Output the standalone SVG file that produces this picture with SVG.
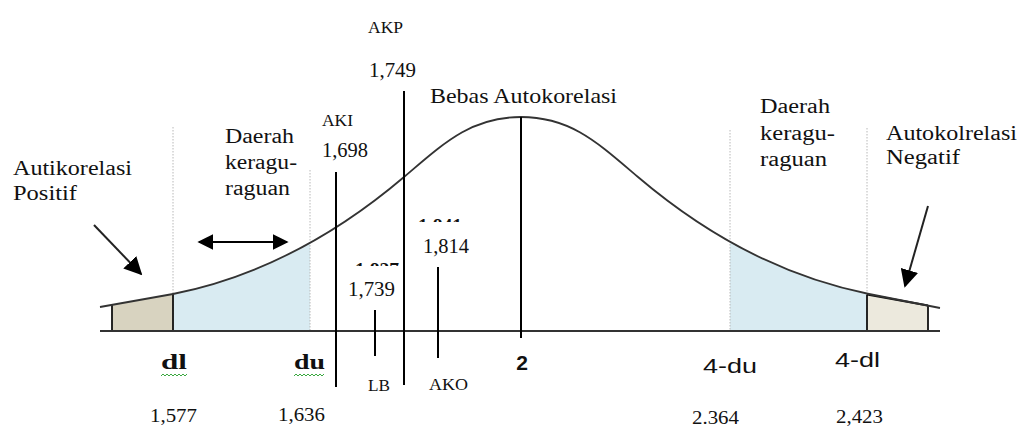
<svg xmlns="http://www.w3.org/2000/svg" width="1022" height="426" viewBox="0 0 1022 426">
<style>
.t{font-family:"Liberation Serif","Times New Roman",serif;fill:#111;}
.s{font-family:"Liberation Sans",Arial,sans-serif;fill:#111;}
.dot{stroke:#b8b8b8;stroke-width:1;stroke-dasharray:1.5 1.5;fill:none;}
.v{stroke:#000;stroke-width:2;fill:none;}
.box{stroke:#111;stroke-width:1.8;}
</style>
<defs>
<marker id="ah" viewBox="0 0 10 10" refX="9" refY="5" markerWidth="18" markerHeight="18" markerUnits="userSpaceOnUse" orient="auto-start-reverse">
<path d="M0,0 L10,5 L0,10 z" fill="#000"/>
</marker>
<marker id="ah2" viewBox="0 0 10 10" refX="9" refY="5" markerWidth="16" markerHeight="17" markerUnits="userSpaceOnUse" orient="auto-start-reverse">
<path d="M0,0 L10,5 L0,10 z" fill="#000"/>
</marker>
<clipPath id="under">
<path d="M100,307 L173,294 C250,278.6 327,242.5 404,177 C444,143 471,117 521,117 C571,117 598,143 638,177 C715,242.5 792,278.6 869,294 L940,308 L940,331 L100,331 z"/>
</clipPath>
<clipPath id="c1"><rect x="410" y="214" width="60" height="8"/></clipPath>
<clipPath id="c2"><rect x="350" y="258" width="60" height="8"/></clipPath>
</defs>

<g id="shading">
<rect x="173" y="100" width="137" height="231" fill="#d9ebf2" clip-path="url(#under)"/>
<rect x="730" y="100" width="137" height="231" fill="#d9ebf2" clip-path="url(#under)"/>
</g>

<g id="guides">
<line class="dot" x1="173" y1="127" x2="173" y2="331"/>
<line class="dot" x1="310" y1="170" x2="310" y2="331"/>
<line class="dot" x1="730" y1="130" x2="730" y2="331"/>
<line class="dot" x1="867" y1="128" x2="867" y2="331"/>
</g>

<g id="box-positif">
<path d="M112,331 L112,304.9 L173,294 L173,331 z" fill="#d8d3c0" stroke="none"/>
<path class="box" d="M112,331 L112,304.9 M173,294 L173,331" fill="none"/>
</g>
<g id="box-negatif">
<path d="M867,331 L867,294.5 L928,305.5 L928,331 z" fill="#ece9dd" stroke="none"/>
<path class="box" d="M867,294.5 L867,331 M928,305.5 L928,331 M867,294.5 L928,305.5" fill="none"/>
</g>

<g id="curve">
<path d="M100,307 L173,294 C250,278.6 327,242.5 404,177 C444,143 471,117 521,117 C571,117 598,143 638,177 C715,242.5 792,278.6 869,294 L940,308" fill="none" stroke="#333" stroke-width="1.8"/>
</g>

<g id="axis">
<line x1="100" y1="331" x2="940" y2="331" stroke="#333" stroke-width="2"/>
</g>

<g id="connectors">
<line class="v" x1="521" y1="117" x2="521" y2="338" stroke-width="1.8"/>
<line class="v" x1="336" y1="172" x2="336" y2="387"/>
<line class="v" x1="404" y1="91" x2="404" y2="385"/>
<line class="v" x1="375" y1="310" x2="375" y2="356" stroke-width="1.8"/>
<line class="v" x1="438" y1="267" x2="438" y2="358" stroke-width="1.8"/>
<line x1="94" y1="225" x2="141" y2="274" stroke="#222" stroke-width="2" marker-end="url(#ah)"/>
<line x1="928" y1="206" x2="905" y2="286" stroke="#222" stroke-width="2" marker-end="url(#ah)"/>
<line x1="199" y1="242" x2="287" y2="242" stroke="#000" stroke-width="2.2" marker-start="url(#ah2)" marker-end="url(#ah2)"/>
</g>

<g id="label-positif">
<text class="t" x="13" y="175" font-size="20" textLength="119" lengthAdjust="spacingAndGlyphs">Autikorelasi</text>
<text class="t" x="13" y="200" font-size="20" textLength="64" lengthAdjust="spacingAndGlyphs">Positif</text>
</g>
<g id="label-ragu-left">
<text class="t" x="225" y="143" font-size="20" textLength="69" lengthAdjust="spacingAndGlyphs">Daerah</text>
<text class="t" x="225" y="169" font-size="20" textLength="72" lengthAdjust="spacingAndGlyphs">keragu-</text>
<text class="t" x="225" y="195" font-size="20" textLength="65" lengthAdjust="spacingAndGlyphs">raguan</text>
</g>
<g id="label-ragu-right">
<text class="t" x="760" y="113" font-size="20" textLength="70" lengthAdjust="spacingAndGlyphs">Daerah</text>
<text class="t" x="760" y="140" font-size="20" textLength="75" lengthAdjust="spacingAndGlyphs">keragu-</text>
<text class="t" x="760" y="166" font-size="20" textLength="67" lengthAdjust="spacingAndGlyphs">raguan</text>
</g>
<g id="label-negatif">
<text class="t" x="886" y="140" font-size="20" textLength="131" lengthAdjust="spacingAndGlyphs">Autokolrelasi</text>
<text class="t" x="886" y="164" font-size="20" textLength="74" lengthAdjust="spacingAndGlyphs">Negatif</text>
</g>
<g id="label-bebas">
<text class="t" x="430" y="103" font-size="21" textLength="187" lengthAdjust="spacingAndGlyphs" fill="#1e1e28">Bebas Autokorelasi</text>
</g>
<g id="label-akp">
<text class="t" x="368" y="33" font-size="17" textLength="35" lengthAdjust="spacingAndGlyphs">AKP</text>
<text class="t" x="369" y="77" font-size="20" textLength="47" lengthAdjust="spacingAndGlyphs">1,749</text>
</g>
<g id="label-aki">
<text class="t" x="322" y="126" font-size="17" textLength="31" lengthAdjust="spacingAndGlyphs">AKI</text>
<text class="t" x="322" y="157" font-size="20" textLength="46" lengthAdjust="spacingAndGlyphs">1,698</text>
</g>
<g id="label-ako">
<text class="t" x="418" y="232" font-size="18" font-weight="bold" clip-path="url(#c1)" textLength="44" lengthAdjust="spacingAndGlyphs">1,841</text>
<text class="t" x="423" y="253" font-size="20" textLength="46" lengthAdjust="spacingAndGlyphs">1,814</text>
<text class="t" x="429" y="390" font-size="17" textLength="39" lengthAdjust="spacingAndGlyphs">AKO</text>
</g>
<g id="label-lb">
<text class="t" x="355" y="276" font-size="18" font-weight="bold" clip-path="url(#c2)" textLength="44" lengthAdjust="spacingAndGlyphs">1,827</text>
<text class="t" x="348" y="296" font-size="20" textLength="47" lengthAdjust="spacingAndGlyphs">1,739</text>
<text class="t" x="368" y="391" font-size="17" textLength="22" lengthAdjust="spacingAndGlyphs">LB</text>
</g>
<g id="label-dl">
<text class="t" x="161" y="369" font-size="20" font-weight="bold" textLength="26" lengthAdjust="spacingAndGlyphs">dl</text>
<path d="M161,376 l2,-2 l2,2 l2,-2 l2,2 l2,-2 l2,2 l2,-2 l2,2 l2,-2 l2,2 l2,-2 l2,2 l2,-2" fill="none" stroke="#3aa840" stroke-width="1"/>
<text class="t" x="150" y="422" font-size="19" textLength="47" lengthAdjust="spacingAndGlyphs">1,577</text>
</g>
<g id="label-du">
<text class="t" x="294" y="369" font-size="20" font-weight="bold" textLength="31" lengthAdjust="spacingAndGlyphs">du</text>
<path d="M294,376 l2,-2 l2,2 l2,-2 l2,2 l2,-2 l2,2 l2,-2 l2,2 l2,-2 l2,2 l2,-2 l2,2 l2,-2 l2,2 l2,-2" fill="none" stroke="#3aa840" stroke-width="1"/>
<text class="t" x="278" y="421" font-size="19" textLength="47" lengthAdjust="spacingAndGlyphs">1,636</text>
</g>
<g id="label-2">
<text class="s" x="522" y="370" font-size="21" font-weight="bold" text-anchor="middle">2</text>
</g>
<g id="label-4du">
<text class="s" x="703" y="373" font-size="20" textLength="54" lengthAdjust="spacingAndGlyphs">4-du</text>
<text class="t" x="692" y="424" font-size="19" textLength="47" lengthAdjust="spacingAndGlyphs">2.364</text>
</g>
<g id="label-4dl">
<text class="s" x="835" y="367" font-size="20" textLength="45" lengthAdjust="spacingAndGlyphs">4-dl</text>
<text class="t" x="836" y="423" font-size="19" textLength="47" lengthAdjust="spacingAndGlyphs">2,423</text>
</g>
</svg>
